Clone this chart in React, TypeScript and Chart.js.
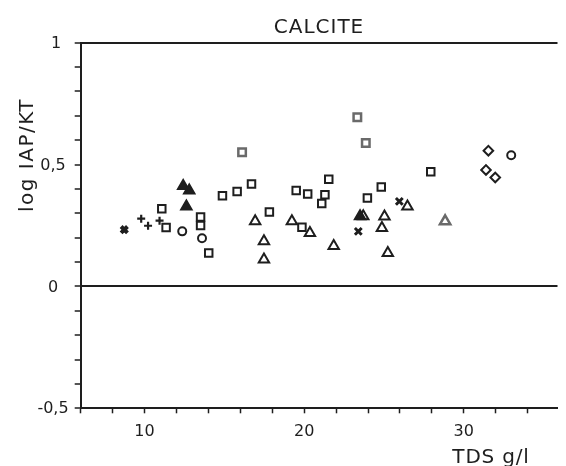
import React, { useEffect, useRef } from 'react';
import { Chart, registerables } from 'chart.js';
Chart.register(...registerables);

// ---- data (TDS g/l vs log IAP/KT) ----
const squareX = [11.08, 11.35, 13.51, 13.51, 14.02, 14.88, 15.8, 16.7, 17.82, 19.5, 19.86, 20.22, 21.1, 21.3, 21.54, 23.96, 24.83, 27.93];
const squareY = [0.319, 0.242, 0.285, 0.25, 0.137, 0.372, 0.39, 0.42, 0.305, 0.394, 0.243, 0.379, 0.34, 0.376, 0.44, 0.363, 0.408, 0.471];

const graySquareX = [16.11, 23.33, 23.86];
const graySquareY = [0.551, 0.694, 0.588];

const triangleX = [16.93, 17.48, 17.48, 19.23, 20.36, 21.85, 23.7, 25.03, 24.87, 25.24, 26.47];
const triangleY = [0.267, 0.185, 0.11, 0.267, 0.219, 0.166, 0.288, 0.287, 0.24, 0.137, 0.328];

const grayTriangleX = [28.83];
const grayTriangleY = [0.267];

const filledTriangleX = [12.42, 12.8, 12.62, 23.5];
const filledTriangleY = [0.412, 0.394, 0.328, 0.288];

const circleX = [12.36, 13.6, 32.97];
const circleY = [0.226, 0.198, 0.538];

const diamondX = [31.54, 31.39, 31.97];
const diamondY = [0.557, 0.478, 0.447];

const plusX = [9.79, 10.22, 10.94];
const plusY = [0.278, 0.249, 0.27];

const crossX = [23.39, 25.96];
const crossY = [0.226, 0.349];

const boldCrossX = [8.73];
const boldCrossY = [0.233];

const xTickLabels = [10, 20, 30];
const yTickValues = [1, 0.5, 0, -0.5];
const yTickLabels = ['1', '0,5', '0', '-0,5'];

const INK = '#1e1e1e';
const GRAY = '#6a6a6a';

const zip = (xs: number[], ys: number[]) => xs.map((x, i) => ({ x, y: ys[i] }));

const textPlugin = {
  id: 'texts',
  afterDraw(chart: any) {
    const ctx = chart.ctx as CanvasRenderingContext2D;
    const ys = chart.scales.y;
    ctx.save();
    ctx.fillStyle = INK;
    // y tick labels (centered column, as in the original plot)
    ctx.font = '16px "DejaVu Sans"';
    ctx.textAlign = 'center';
    ctx.textBaseline = 'middle';
    yTickValues.forEach((v, i) => {
      const cx = yTickLabels[i] === '1' ? 56 : 53;
      ctx.fillText(yTickLabels[i], cx, ys.getPixelForValue(v) + 1);
    });
    ctx.textBaseline = 'alphabetic';
    (ctx as any).letterSpacing = '1px';
    ctx.font = '20px "DejaVu Sans"';
    ctx.fillText('CALCITE', 319, 32.5);
    (ctx as any).letterSpacing = '0.8px';
    ctx.fillText('TDS g/l', 491, 462.5);
    (ctx as any).letterSpacing = '1.5px';
    ctx.translate(32.5, 155);
    ctx.rotate(-Math.PI / 2);
    ctx.fillText('log IAP/KT', 0, 0);
    ctx.restore();
  },
};

export default function App() {
  const ref = useRef<HTMLCanvasElement | null>(null);
  useEffect(() => {
    if (!ref.current) return;
    const base = { showLine: false, borderColor: INK, borderWidth: 2, backgroundColor: 'transparent' };
    const chart = new Chart(ref.current, {
      type: 'scatter',
      data: {
        datasets: [
          { ...base, label: 'squares', data: zip(squareX, squareY), pointStyle: 'rect', pointRadius: 5.3 },
          { ...base, label: 'gray squares', data: zip(graySquareX, graySquareY), pointStyle: 'rect', pointRadius: 5.3, borderColor: GRAY, borderWidth: 2.5 },
          { ...base, label: 'triangles', data: zip(triangleX, triangleY), pointStyle: 'triangle', pointRadius: 6 },
          { ...base, label: 'gray triangles', data: zip(grayTriangleX, grayTriangleY), pointStyle: 'triangle', pointRadius: 6, borderColor: GRAY, borderWidth: 2.5 },
          { ...base, label: 'filled triangles', data: zip(filledTriangleX, filledTriangleY), pointStyle: 'triangle', pointRadius: 6, backgroundColor: INK },
          { ...base, label: 'circles', data: zip(circleX, circleY), pointStyle: 'circle', pointRadius: 4 },
          { ...base, label: 'diamonds', data: zip(diamondX, diamondY), pointStyle: 'rectRot', pointRadius: 4.8 },
          { ...base, label: 'plus', data: zip(plusX, plusY), pointStyle: 'cross', pointRadius: 4, borderWidth: 2.2 },
          { ...base, label: 'cross', data: zip(crossX, crossY), pointStyle: 'crossRot', pointRadius: 4.8, borderWidth: 3 },
          { ...base, label: 'bold cross', data: zip(boldCrossX, boldCrossY), pointStyle: 'crossRot', pointRadius: 4.5, borderWidth: 4 },
        ],
      },
      options: {
        responsive: false,
        animation: false,
        layout: { padding: { top: 42.7, left: 0, right: 0, bottom: 0 } },
        plugins: { legend: { display: false }, tooltip: { enabled: false }, title: { display: false } },
        scales: {
          x: {
            type: 'linear',
            min: 6,
            max: 35.87,
            afterFit: (s: any) => { s.height = 57.7; s.paddingLeft = 0; s.paddingRight = 0; },
            ticks: {
              stepSize: 2,
              includeBounds: false,
              autoSkip: false,
              maxRotation: 0,
              padding: 8.5,
              color: INK,
              font: { family: 'DejaVu Sans', size: 16 },
              callback: (v: any) => {
                const n = Number(v);
                const r = Math.round(n);
                return Math.abs(n - r) < 1e-6 && xTickLabels.includes(r) ? String(r) : '';
              },
            },
            grid: { drawOnChartArea: false, tickLength: 5, tickColor: INK, tickWidth: 1.5, color: INK },
            border: { display: true, color: INK, width: 2 },
          },
          y: {
            type: 'linear',
            min: -0.5,
            max: 1,
            afterFit: (s: any) => { s.width = 80.7; s.paddingTop = 0; s.paddingBottom = 0; },
            ticks: {
              stepSize: 0.1,
              autoSkip: false,
              display: false,
            },
            grid: {
              drawOnChartArea: true,
              drawTicks: true,
              tickLength: 6,
              tickColor: INK,
              tickWidth: 1.5,
              lineWidth: 2,
              color: (c: any) => {
                const v = c.tick ? c.tick.value : NaN;
                return Math.abs(v) < 1e-9 || Math.abs(v - 1) < 1e-9 ? INK : 'rgba(0,0,0,0)';
              },
            },
            border: { display: true, color: INK, width: 2 },
          },
        },
      },
      plugins: [textPlugin],
    } as any);
    return () => chart.destroy();
  }, []);
  return (
    <div style={{ position: 'fixed', left: 0, top: 0, width: 566, height: 466, background: '#fff' }}>
      <canvas ref={ref} width={566} height={466} style={{ display: 'block' }} />
    </div>
  );
}
